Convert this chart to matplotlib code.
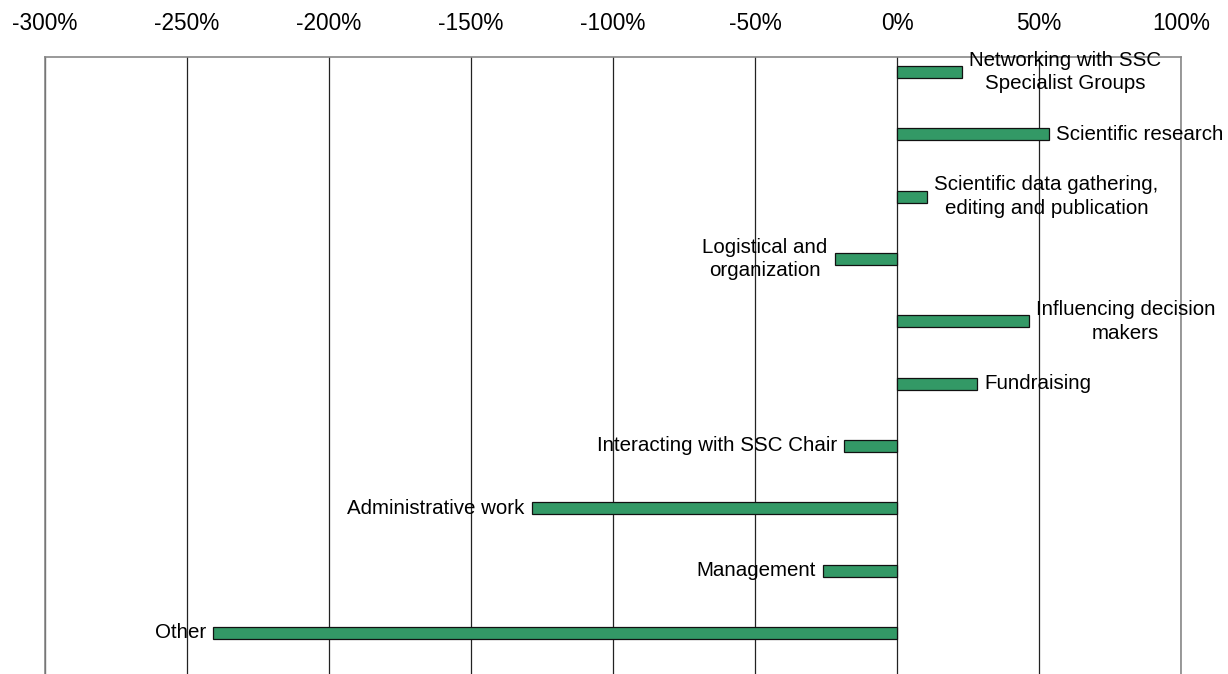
import matplotlib
matplotlib.use("Agg")
import matplotlib.pyplot as plt

categories = [
    "Networking with SSC\nSpecialist Groups",
    "Scientific research",
    "Scientific data gathering,\nediting and publication",
    "Logistical and\norganization",
    "Influencing decision\nmakers",
    "Fundraising",
    "Interacting with SSC Chair",
    "Administrative work",
    "Management",
    "Other",
]
values = [23, 53.5, 10.7, -22, 46.5, 28.3, -18.7, -128.6, -26.1, -240.7]
ticks = [-300, -250, -200, -150, -100, -50, 0, 50, 100]
tick_labels = [f"{t}%" for t in ticks]

plt.rcParams["font.family"] = ["Liberation Sans", "DejaVu Sans"]

W, H = 1228, 674
fig = plt.figure(figsize=(W / 100, H / 100), dpi=100)
ax = fig.add_axes([45 / W, 0, (1181 - 45) / W, (H - 57) / H])

ypos = list(range(len(categories)))
ax.barh(ypos, values, height=0.19, color="#339966", edgecolor="#111111",
        linewidth=0.9, zorder=3)

for y, v, lab in zip(ypos, values, categories):
    off = 5 if v >= 0 else -5
    ax.annotate(lab, xy=(v, y), xytext=(off, 0), textcoords="offset points",
                ha="left" if v >= 0 else "right", va="center",
                multialignment="center", fontsize=14.8, linespacing=1.3,
                zorder=4)

ax.set_xlim(-300, 100)
ax.set_ylim(9.658, -0.241)
ax.set_xticks(ticks)
ax.set_xticklabels(tick_labels)
ax.xaxis.tick_top()
ax.tick_params(axis="x", length=0, pad=16, labelsize=16.3)
ax.set_yticks([])
ax.grid(axis="x", color="#222222", linewidth=0.9, zorder=1)

for side in ["top", "left", "right"]:
    ax.spines[side].set_color("#888888")
    ax.spines[side].set_linewidth(1.2)
ax.spines["bottom"].set_visible(False)

fig.savefig("out.png", dpi=100)
